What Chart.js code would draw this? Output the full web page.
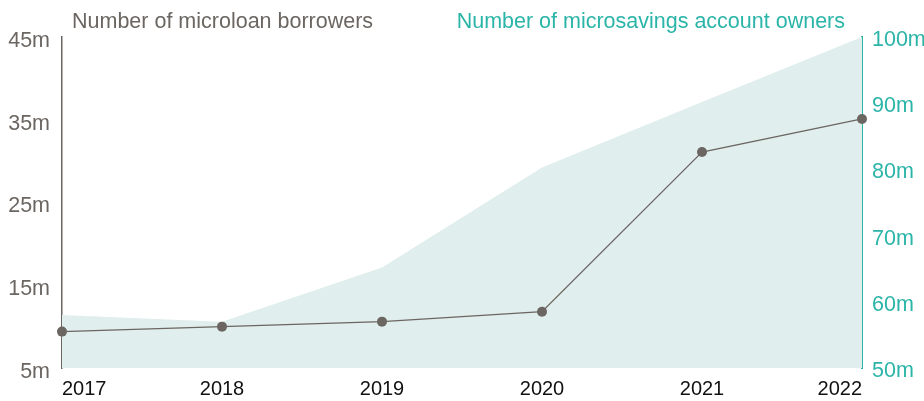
<!DOCTYPE html>
<html>
<head>
<meta charset="utf-8">
<script src="https://cdn.jsdelivr.net/npm/chart.js@4"></script>
<style>
html,body{margin:0;padding:0;background:#fff;}
#wrap{width:924px;height:401px;position:relative;}
</style>
</head>
<body>
<div id="wrap"><canvas id="c" width="924" height="401"></canvas></div>
<script>
const years = ['2017','2018','2019','2020','2021','2022'];
const borrowers = [9.4, 10.0, 10.6, 11.8, 31.1, 35.1];       // millions, left axis
const savingsOwners = [58.0, 57.0, 65.2, 80.3, 90.2, 100.0]; // millions, right axis
const leftTicks = [5, 15, 25, 35, 45];
const rightTicks = [50, 60, 70, 80, 90, 100];
const leftTitle = 'Number of microloan borrowers';
const rightTitle = 'Number of microsavings account owners';

const GREY = '#6b6661';
const TEAL = '#2bb5a8';
const AREA = '#e0eeed';
const FONT = '"Liberation Sans", Arial, sans-serif';

const textPlugin = {
  id: 'textPlugin',
  afterDraw(chart) {
    const ctx = chart.ctx;
    const x = chart.scales.x;
    ctx.save();
    ctx.font = '21.5px ' + FONT;
    ctx.textBaseline = 'alphabetic';
    ctx.fillStyle = GREY;
    ctx.textAlign = 'left';
    ctx.fillText(leftTitle, 72, 28);
    ctx.fillStyle = TEAL;
    ctx.textAlign = 'right';
    ctx.fillText(rightTitle, 845, 28);
    ctx.fillStyle = '#111';
    ctx.font = '20px ' + FONT;
    years.forEach((y, i) => {
      const px = x.getPixelForValue(i);
      ctx.textAlign = i === 0 ? 'left' : (i === years.length - 1 ? 'right' : 'center');
      ctx.fillText(y, px, 395);
    });
    ctx.restore();
  }
};

new Chart(document.getElementById('c'), {
  type: 'line',
  data: {
    labels: years,
    datasets: [
      {
        label: 'borrowers',
        data: borrowers,
        yAxisID: 'y',
        borderColor: GREY,
        borderWidth: 1.3,
        pointRadius: 5,
        pointBackgroundColor: GREY,
        pointBorderWidth: 0,
        tension: 0,
        fill: false,
        clip: false,
        order: 0
      },
      {
        label: 'savings',
        data: savingsOwners,
        yAxisID: 'y2',
        borderWidth: 0,
        borderColor: 'rgba(0,0,0,0)',
        backgroundColor: AREA,
        pointRadius: 0,
        tension: 0,
        fill: 'start',
        order: 1
      }
    ]
  },
  options: {
    responsive: false,
    animation: false,
    events: [],
    layout: { padding: { top: 37, bottom: 0, left: 0, right: 0 } },
    plugins: { legend: { display: false }, tooltip: { enabled: false } },
    scales: {
      x: {
        type: 'category',
        offset: false,
        grid: { display: false },
        border: { display: false },
        ticks: { display: false },
        afterFit(s) { s.height = 33; }
      },
      y: {
        position: 'left',
        z: 1,
        min: 5, max: 45,
        afterBuildTicks(s) { s.ticks = leftTicks.map(v => ({ value: v })); },
        grid: { display: false },
        border: { display: true, color: GREY, width: 1.5 },
        ticks: {
          color: GREY,
          font: { family: FONT, size: 21.5 },
          padding: 4,
          labelOffset: 4,
          callback: v => v + 'm'
        },
        afterFit(s) { s.width = 62; }
      },
      y2: {
        position: 'right',
        z: 1,
        min: 50, max: 100,
        afterBuildTicks(s) { s.ticks = rightTicks.map(v => ({ value: v })); },
        grid: { display: false },
        border: { display: true, color: TEAL, width: 2 },
        ticks: {
          color: TEAL,
          font: { family: FONT, size: 21.5 },
          padding: 2,
          labelOffset: 3,
          callback: v => v + 'm'
        },
        afterFit(s) { s.width = 62; }
      }
    }
  },
  plugins: [textPlugin]
});
</script>
</body>
</html>
